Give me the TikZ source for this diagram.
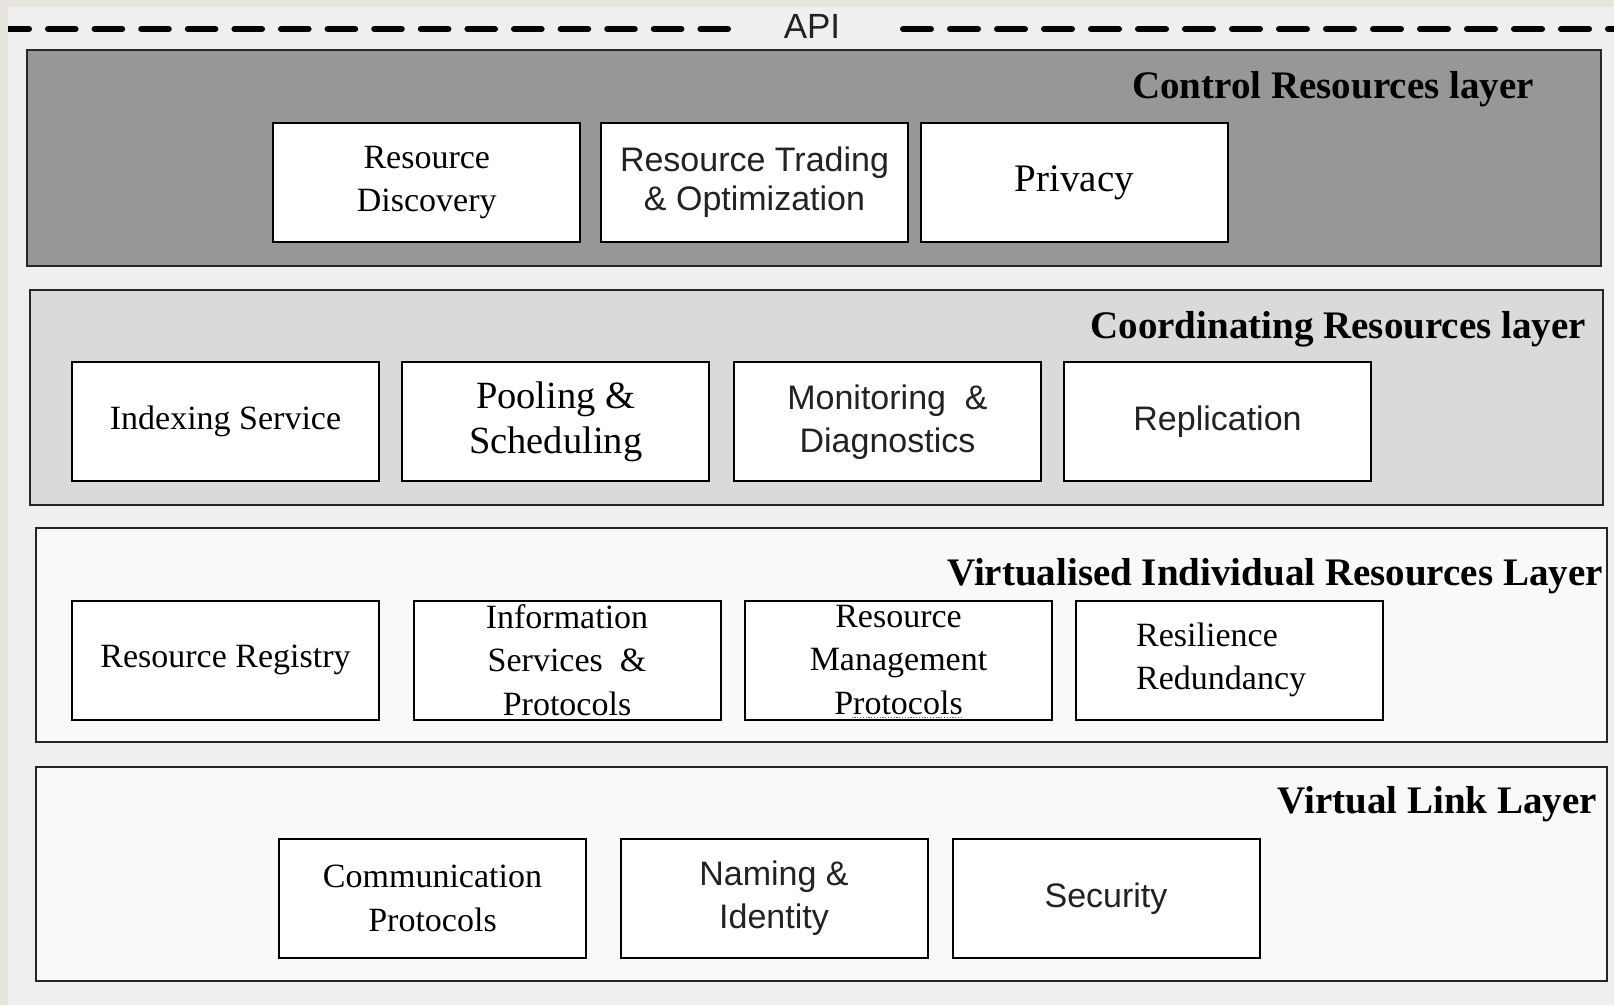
\documentclass[tikz,border=0pt]{standalone}
\usepackage{fontspec}
\setmainfont{Liberation Serif}
\newfontfamily\arialf{Liberation Sans}
\definecolor{bgc}{HTML}{EFEFEF}
\definecolor{beige}{HTML}{E7E4DE}
\definecolor{ctrl}{HTML}{979797}
\definecolor{coord}{HTML}{DADADA}
\definecolor{virt}{HTML}{F9F9F9}
\definecolor{sanstext}{HTML}{222222}
\begin{document}
\begin{tikzpicture}[x=1pt,y=-1pt,
  layerbox/.style={draw=black!85, line width=2, inner sep=0pt},
  comp/.style={draw=black, line width=2, fill=white, inner sep=0pt,
    minimum width=307, minimum height=119, align=center},
  serif/.style={font=\fontsize{34}{43.5}\selectfont},
  sans/.style={font=\arialf\fontsize{34}{39}\selectfont, text=sanstext},
  title/.style={font=\bfseries\fontsize{39}{42}\selectfont, anchor=base east, inner sep=0pt},
  apidash/.style={line width=6, line cap=round, draw=black}
]
\useasboundingbox (0,0) rectangle (1614,1005);
\fill[bgc] (0,0) rectangle (1614,1005);

% API line
\coordinate (apiL0) at (1.4,29);
\coordinate (apiL1) at (729,29);
\coordinate (apiR0) at (903,29);
\coordinate (apiR1) at (1620,29);
\draw[apidash, dash pattern=on 27.6 off 19] (apiL0) -- (apiL1);
\draw[apidash, dash pattern=on 28 off 19] (apiR0) -- (apiR1);
\node[font=\arialf\fontsize{35}{40}\selectfont, text=sanstext, inner sep=0pt] (api) at (812,26) {API};

% beige frame strips
\fill[beige] (0,0) rectangle (1614,7);
\fill[beige] (0,0) rectangle (8,1005);

% layers
\node[layerbox, fill=ctrl, minimum width=1574, minimum height=216] (L1) at (814,158) {};
\node[layerbox, fill=coord, minimum width=1573, minimum height=215] (L2) at (816.5,397) {};
\node[layerbox, fill=virt, minimum width=1571, minimum height=214] (L3) at (821.5,635) {};
\node[layerbox, fill=virt, minimum width=1571, minimum height=214] (L4) at (821.5,873.5) {};

% titles
\node[title] (t1) at (1534,98) {Control Resources layer};
\node[title] (t2) at (1586,338) {Coordinating Resources layer};
\node[title] (t3) at (1603,585) {Virtualised Individual Resources Layer};
\node[title] (t4) at (1597,813) {Virtual Link Layer};

% Control layer components
\node[comp, serif] (rd) at (426.75,182.5) {Resource\\Discovery};
\node[comp, sans] (rto) at (754.5,182.5) {Resource Trading\\\& Optimization};
\node[comp, font=\fontsize{39}{45}\selectfont] (priv) at (1074.5,182.5) {Privacy};

% Coordinating layer components
\node[comp, serif] (idx) at (225.5,421.7) {Indexing Service};
\node[comp, font=\fontsize{38.5}{45.3}\selectfont] (pool) at (555.7,421.7) {Pooling \&\\Scheduling};
\node[comp, sans, font=\arialf\fontsize{34}{43}\selectfont] (mon) at (887.5,421.7) {Monitoring\ \ \&\\Diagnostics};
\node[comp, sans] (rep) at (1217.5,421.7) {Replication};

% Virtualised individual resources layer components
\node[comp, serif] (reg) at (225.5,660) {Resource Registry};
\node[comp, serif] (info) at (567,660) {Information\\Services\ \ \&\\Protocols};
\node[comp, serif] (rmp) at (898.5,660) {Resource\\Management\\Protocols};
\node[comp] (res) at (1229,660) {};
\node[serif, anchor=west, align=left, inner sep=0pt] (restext) at (1136,660) {Resilience\\Redundancy};
\draw[black!60, line width=1.2, dash pattern=on 1.2 off 1.6] ([xshift=-47]rmp.south) ++(0,-3) coordinate (sq0) -- ++(110,0) coordinate (sq1);

% Virtual link layer components
\node[comp, serif] (comm) at (432.5,898.3) {Communication\\Protocols};
\node[comp, sans, font=\arialf\fontsize{34}{43}\selectfont] (nam) at (774,898.3) {Naming\ \&\\Identity};
\node[comp, sans] (sec) at (1106,898.3) {Security};
\end{tikzpicture}
\end{document}
